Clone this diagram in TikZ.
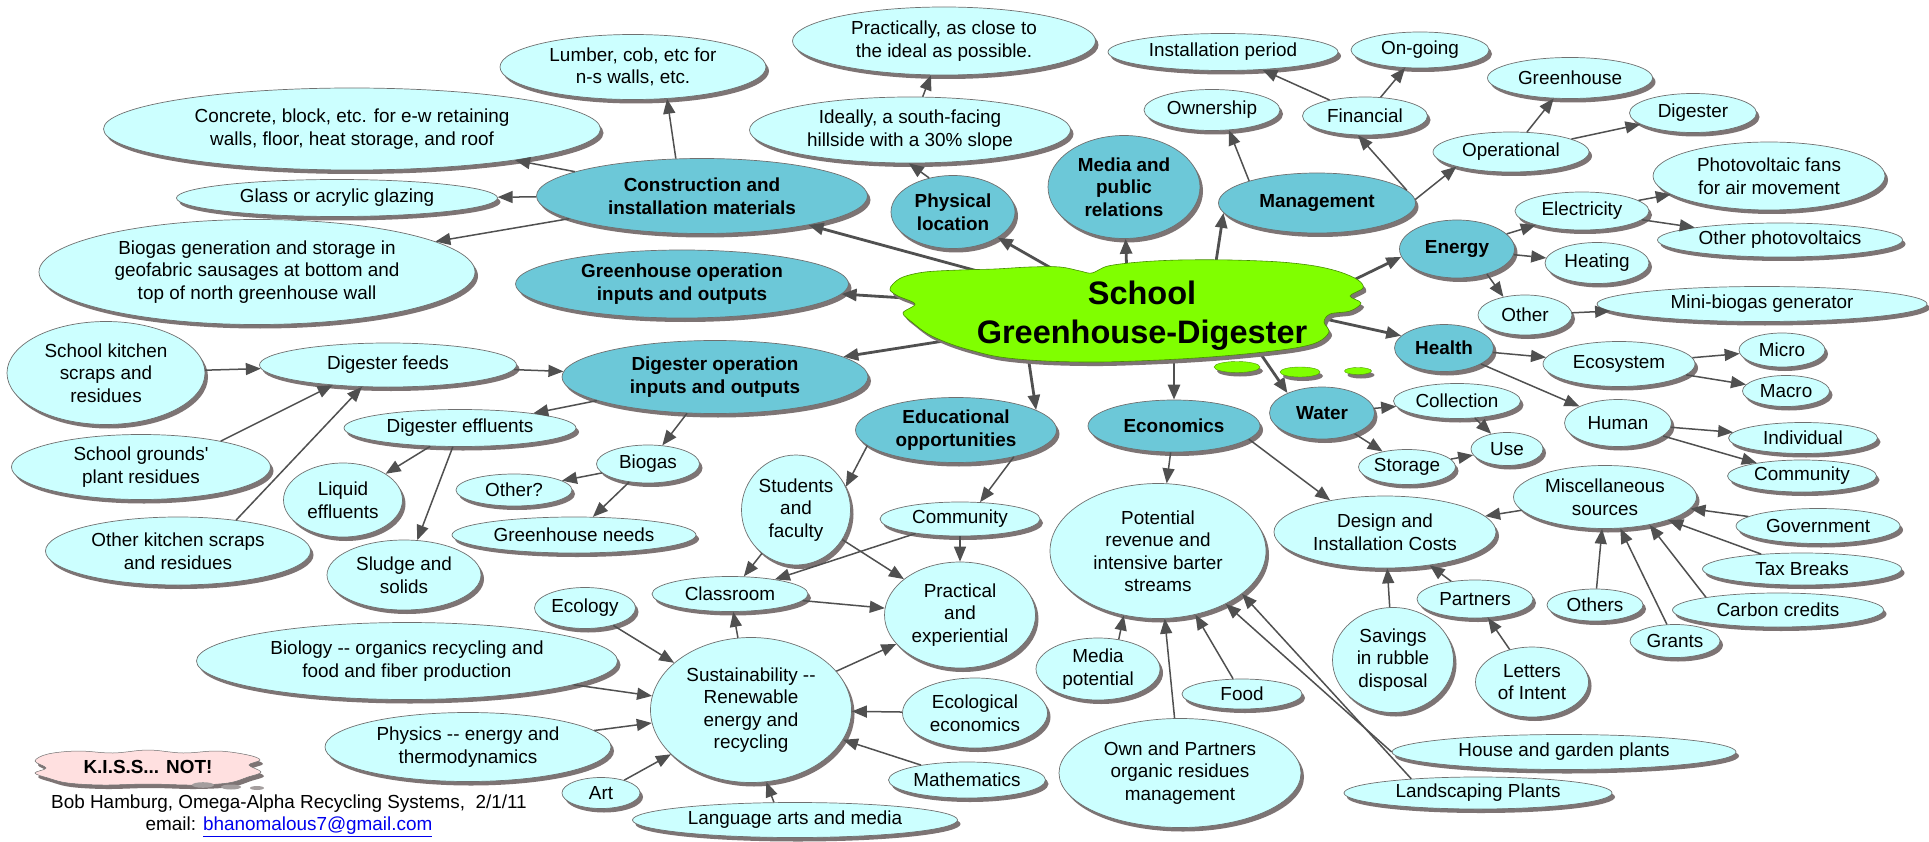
\documentclass[tikz,border=0pt]{standalone}
\usepackage{fontspec}
\setmainfont{Liberation Sans}
\newfontfamily\plainsans{Liberation Sans}
\usetikzlibrary{shapes.geometric,shadows,arrows.meta}
\definecolor{ltfill}{HTML}{CCFFFF}
\definecolor{mnfill}{HTML}{6CC8D8}
\definecolor{limec}{HTML}{80FF00}
\definecolor{shd}{HTML}{7D7474}
\definecolor{edgec}{HTML}{707070}
\definecolor{linec}{HTML}{505050}
\definecolor{pinkc}{HTML}{FFE0E0}
\definecolor{linkc}{HTML}{0000EE}
\pgfdeclarelayer{front}
\pgfsetlayers{main,front}
\begin{document}
\begin{tikzpicture}[x=1pt,y=-1pt,
 every node/.style={font=\fontsize{18.9}{22.5}\selectfont, text=black},
 shad/.style={drop shadow={shadow xshift=3pt, shadow yshift=-4pt, fill=shd, opacity=1}},
 bub/.style={ellipse, draw=edgec, line width=0.7pt, inner sep=0pt, align=center, shad},
 lt/.style={bub, fill=ltfill},
 mn/.style={bub, fill=mnfill, font=\fontsize{18.9}{22.5}\selectfont\bfseries},
 sz/.style 2 args={minimum width=#1pt, minimum height=#2pt},
 con/.style={draw=linec, line width=1.5pt, -{Triangle[length=15pt,width=12pt]}},
 hubcon/.style={con, line width=2.8pt},
 blob/.style={fill=limec, draw=limec!60!black, line width=0.4pt, shad},
]
\useasboundingbox (0,0) rectangle (1929,842);
\fill[white] (0,0) rectangle (1929,842);

% hub cloud (drawn on the front layer, above the connectors that leave it)
\begin{pgfonlayer}{front}
\path[fill=limec, draw=limec!55!black, line width=0.6pt, shad]
  plot[smooth cycle, tension=0.55] coordinates {
  (893,284) (903,277) (925,272) (960,270) (995,269) (1030,267) (1060,267) (1080,271)
  (1092,273) (1108,266) (1140,262) (1180,260) (1230,260) (1280,262) (1315,266)
  (1340,272) (1358,280) (1363,288) (1350,296) (1361,303) (1350,311) (1330,314)
  (1324,322) (1329,332) (1318,342) (1295,348) (1255,353) (1210,357) (1160,360)
  (1100,362) (1045,361) (1000,357) (970,350) (948,343) (928,334) (913,323)
  (903,313) (915,304) (898,296) (890,290)};
\node[ellipse, minimum width=400pt, minimum height=72pt, inner sep=0pt,
  font=\fontsize{32.5}{38}\selectfont\bfseries] (hub) at (1128,312)
  {\raisebox{7pt}[0pt][0pt]{\makebox[0pt]{\hspace*{28pt}\begin{tabular}[t]{@{}c@{}}School\\Greenhouse-Digester\end{tabular}}}};
\path[blob] (1237,367) ellipse [x radius=23pt, y radius=5.5pt];
\path[blob] (1300,372) ellipse [x radius=20pt, y radius=5pt];
\path[blob] (1358,371) ellipse [x radius=13.5pt, y radius=3.5pt];
\end{pgfonlayer}

% left cluster
\node[lt,sz={266}{65}] (lumber) at (633,67) {Lumber, cob, etc for\\n-s walls, etc.};
\node[lt,sz={497}{82}] (concrete) at (352,129) {Concrete, block, etc. for e-w retaining\\walls, floor, heat storage, and roof};
\node[lt,sz={321}{37}] (glass) at (337,198) {Glass or acrylic glazing};
\node[lt,sz={436}{105}] (biogasgen) at (257,272) {Biogas generation and storage in\\geofabric sausages at bottom and\\top of north greenhouse wall};
\node[mn,sz={331}{75}] (construction) at (702,196) {Construction and\\installation materials};
\node[mn,sz={333}{68}] (greenop) at (682,284) {Greenhouse operation\\inputs and outputs};
\node[mn,sz={306}{73}] (digop) at (715,377) {Digester operation\\inputs and outputs};
\node[lt,sz={198}{103}] (kitchen) at (106,373) {School kitchen\\scraps and\\residues};
\node[lt,sz={257}{44}] (feeds) at (388,365) {Digester feeds};
\node[lt,sz={259}{65}] (grounds) at (141,467) {School grounds{\plainsans'}\\plant residues};
\node[lt,sz={232}{37}] (effluents) at (460,428) {Digester effluents};
\node[lt,sz={119}{74}] (liquid) at (343,500) {Liquid\\effluents};
\node[lt,sz={265}{68}] (otherkitchen) at (178,551) {Other kitchen scraps\\and residues};
\node[lt,sz={154}{70}] (sludge) at (404,575) {Sludge and\\solids};
\node[lt,sz={103}{38}] (biogas) at (648,464) {Biogas};
\node[lt,sz={116}{32}] (otherq) at (514,490) {Other?};
\node[lt,sz={244}{36}] (ghneeds) at (574,535) {Greenhouse needs};
\node[lt,sz={101}{41}] (ecology) at (585,608) {Ecology};
\node[lt,sz={421}{77}] (biology) at (407,661) {Biology -\kern0pt- organics recycling and\\food and fiber production};
\node[lt,sz={286}{69}] (physics) at (468,747) {Physics -\kern0pt- energy and\\thermodynamics};
\node[lt,sz={78}{31}] (art) at (601,793) {Art};

% top / right cluster
\node[lt,sz={303}{68}] (practically) at (944,41) {Practically, as close to\\the ideal as possible.};
\node[lt,sz={321}{66}] (ideally) at (910,130) {Ideally, a south-facing\\hillside with a 30\% slope};
\node[mn,sz={124}{73}] (physical) at (953,212) {Physical\\location};
\node[mn,sz={152}{103}] (media) at (1124,187) {Media and\\public\\relations};
\node[mn,sz={197}{60}] (management) at (1317,203) {Management};
\node[lt,sz={136}{41}] (ownership) at (1212,110) {Ownership};
\node[lt,sz={230}{37}] (installation) at (1223,52) {Installation period};
\node[lt,sz={138}{36}] (ongoing) at (1420,50) {On-going};
\node[lt,sz={125}{38}] (financial) at (1365,116) {Financial};
\node[lt,sz={156}{40}] (operational) at (1511,152) {Operational};
\node[lt,sz={165}{41}] (greenhouse) at (1570,78) {Greenhouse};
\node[lt,sz={127}{39}] (digester) at (1693,113) {Digester};
\node[mn,sz={115}{58}] (energy) at (1457,249) {Energy};
\node[lt,sz={134}{38}] (electricity) at (1582,211) {Electricity};
\node[lt,sz={232}{68}] (pvfans) at (1769,176) {Photovoltaic fans\\for air movement};
\node[lt,sz={245}{34}] (otherpv) at (1780,240) {Other photovoltaics};
\node[lt,sz={104}{41}] (heating) at (1597,263) {Heating};
\node[lt,sz={94}{40}] (other) at (1525,315) {Other};
\node[lt,sz={330}{35}] (minibiogas) at (1762,304) {Mini-biogas generator};
\node[mn,sz={99}{47}] (health) at (1444,348) {Health};
\node[lt,sz={152}{45}] (ecosystem) at (1619,364) {Ecosystem};
\node[lt,sz={86}{34}] (micro) at (1782,350) {Micro};
\node[lt,sz={87}{31}] (macro) at (1786,391) {Macro};
\node[mn,sz={105}{52}] (water) at (1322,413) {Water};
\node[lt,sz={127}{35}] (collection) at (1457,401) {Collection};
\node[lt,sz={97}{35}] (storage) at (1407,467) {Storage};
\node[lt,sz={72}{33}] (use) at (1507,449) {Use};
\node[lt,sz={107}{47}] (human) at (1618,423) {Human};
\node[lt,sz={149}{31}] (individual) at (1803,438) {Individual};
\node[lt,sz={149}{32}] (communityb) at (1802,476) {Community};
\node[lt,sz={183}{63}] (misc) at (1605,497) {Miscellaneous\\sources};
\node[lt,sz={222}{72}] (design) at (1385,532) {Design and\\Installation Costs};
\node[lt,sz={164}{35}] (government) at (1818,526) {Government};
\node[lt,sz={199}{32}] (taxbreaks) at (1802,569) {Tax Breaks};
\node[lt,sz={211}{34}] (carbon) at (1778,610) {Carbon credits};
\node[lt,sz={96}{32}] (others) at (1595,605) {Others};
\node[lt,sz={90}{33}] (grants) at (1675,641) {Grants};
\node[lt,sz={116}{38}] (partners) at (1475,599) {Partners};
\node[lt,sz={121}{105}] (savings) at (1393,660) {Savings\\in rubble\\disposal};
\node[lt,sz={113}{70}] (letters) at (1532,682) {Letters\\of Intent};
\node[lt,sz={344}{35}] (house) at (1564,752) {House and garden plants};
\node[lt,sz={268}{32}] (landscaping) at (1478,793) {Landscaping Plants};

% lower middle
\node[mn,sz={201}{65}] (educational) at (956,430) {Educational\\opportunities};
\node[mn,sz={172}{52}] (economics) at (1174,426) {Economics};
\node[lt,sz={216}{135}] (potential) at (1158,551) {Potential\\revenue and\\intensive barter\\streams};
\node[lt,sz={124}{62}] (mediapot) at (1098,669) {Media\\potential};
\node[lt,sz={120}{30}] (food) at (1242,694) {Food};
\node[lt,sz={242}{109}] (own) at (1180,773) {Own and Partners\\organic residues\\management};
\node[lt,sz={109}{110}] (students) at (796,510) {Students\\and\\faculty};
\node[lt,sz={160}{34}] (community) at (960,519) {Community};
\node[lt,sz={156}{35}] (classroom) at (730,594) {Classroom};
\node[lt,sz={151}{106}] (practical) at (960,615) {Practical\\and\\experiential};
\node[lt,sz={201}{145}] (sustain) at (751,710) {Sustainability -\kern0pt-\\Renewable\\energy and\\recycling};
\node[lt,sz={145}{70}] (ecoecon) at (975,713) {Ecological\\economics};
\node[lt,sz={157}{36}] (math) at (967,780) {Mathematics};
\node[lt,sz={325}{35}] (language) at (795,820) {Language arts and media};

% K.I.S.S. cloud and credits
\path[fill=pinkc, draw=edgec, line width=0.5pt, shad]
  plot[smooth cycle, tension=0.6] coordinates {
  (48,754) (78,751) (113,753) (148,750) (183,753) (218,751) (248,755)
  (260,760) (249,765) (261,772) (248,777) (228,783) (193,785) (148,784)
  (103,785) (68,783) (48,778) (35,773) (46,768) (35,761)};
\node[font=\fontsize{18.9}{22.5}\selectfont\bfseries] (kiss) at (148,767) {K.I.S.S... NOT!};
\fill[shd!70] (203,785) ellipse [x radius=11pt, y radius=2.8pt];
\fill[shd!70] (231,787) ellipse [x radius=10pt, y radius=2.5pt];
\fill[shd!70] (257,788) ellipse [x radius=7pt, y radius=2pt];
\node[align=center, font=\fontsize{18.9}{22}\selectfont] (credit) at (289,816)
  {Bob Hamburg, Omega-Alpha Recycling Systems,\ \ 2/1/11\\email: {\color{linkc}\underline{bhanomalous7@gmail.com}}};

% connectors from the hub
\draw[hubcon] (hub) -- (construction);
\draw[hubcon] (hub) -- (physical);
\draw[hubcon] (hub) -- (media);
\draw[hubcon] (hub.21.5) -- (management.186);
\draw[hubcon] (hub) -- (greenop);
\draw[hubcon] (hub) -- (digop);
\draw[hubcon] (hub.197) -- (educational.14);
\draw[hubcon] (economics.north |- hub.south) -- (economics);
\draw[hubcon] (hub.-13.8) -- (water.150);
\draw[hubcon] (hub.-2.8) -- (health.164);
\draw[hubcon] (hub.4.7) -- (energy.188);

% other connectors
\draw[con] (construction.125) -- (lumber.-43);
\draw[con] (construction) -- (concrete);
\draw[con] (construction) -- (glass);
\draw[con] (construction) -- (biogasgen);
\draw[con] (physical.125) -- (ideally.-92);
\draw[con] (ideally) -- (practically);
\draw[con] (management.162) -- (ownership.-50);
\draw[con] (management.8) -- (financial.-110);
\draw[con] (management.2) -- (operational.-165);
\draw[con] (financial) -- (installation);
\draw[con] (financial) -- (ongoing);
\draw[con] (operational) -- (greenhouse);
\draw[con] (operational) -- (digester);
\draw[con] (energy) -- (electricity);
\draw[con] (electricity) -- (pvfans);
\draw[con] (electricity) -- (otherpv);
\draw[con] (energy) -- (heating);
\draw[con] (energy.-40) -- (other.140);
\draw[con] (other) -- (minibiogas);
\draw[con] (health) -- (ecosystem);
\draw[con] (health) -- (human);
\draw[con] (ecosystem) -- (micro);
\draw[con] (ecosystem) -- (macro);
\draw[con] (human) -- (individual);
\draw[con] (human) -- (communityb);
\draw[con] (water) -- (collection);
\draw[con] (water) -- (storage);
\draw[con] (collection) -- (use);
\draw[con] (storage) -- (use);
\draw[con] (economics) -- (potential);
\draw[con] (economics.-10) -- (design.150);
\draw[con] (misc) -- (design);
\draw[con] (government) -- (misc);
\draw[con] (taxbreaks) -- (misc);
\draw[con] (carbon.170) -- (misc.-32);
\draw[con] (grants) -- (misc);
\draw[con] (others) -- (misc);
\draw[con] (partners) -- (design);
\draw[con] (letters) -- (partners);
\draw[con] (savings) -- (design);
\draw[con] (mediapot.55) -- (potential.-118);
\draw[con] (own) -- (potential);
\draw[con] (food) -- (potential);
\draw[con] (house.west) -- (potential.-38);
\draw[con] (landscaping.168) -- (potential.-27);
\draw[con] (educational.190) -- (students.25);
\draw[con] (educational.-25) -- (community.40);
\draw[con] (students) -- (classroom);
\draw[con] (students) -- (practical);
\draw[con] (community) -- (classroom);
\draw[con] (community) -- (practical);
\draw[con] (classroom) -- (practical);
\draw[con] (sustain) -- (classroom);
\draw[con] (sustain) -- (practical);
\draw[con] (ecoecon) -- (sustain);
\draw[con] (math) -- (sustain);
\draw[con] (language.140) -- (sustain.-78);
\draw[con] (ecology) -- (sustain);
\draw[con] (biology) -- (sustain);
\draw[con] (physics) -- (sustain);
\draw[con] (art) -- (sustain);
\draw[con] (digop) -- (effluents);
\draw[con] (digop) -- (biogas);
\draw[con] (feeds) -- (digop);
\draw[con] (kitchen) -- (feeds);
\draw[con] (grounds.18) -- (feeds.-160);
\draw[con] (otherkitchen.28) -- (feeds.-140);
\draw[con] (effluents) -- (liquid);
\draw[con] (effluents) -- (sludge);
\draw[con] (biogas) -- (otherq);
\draw[con] (biogas) -- (ghneeds);
\end{tikzpicture}
\end{document}
